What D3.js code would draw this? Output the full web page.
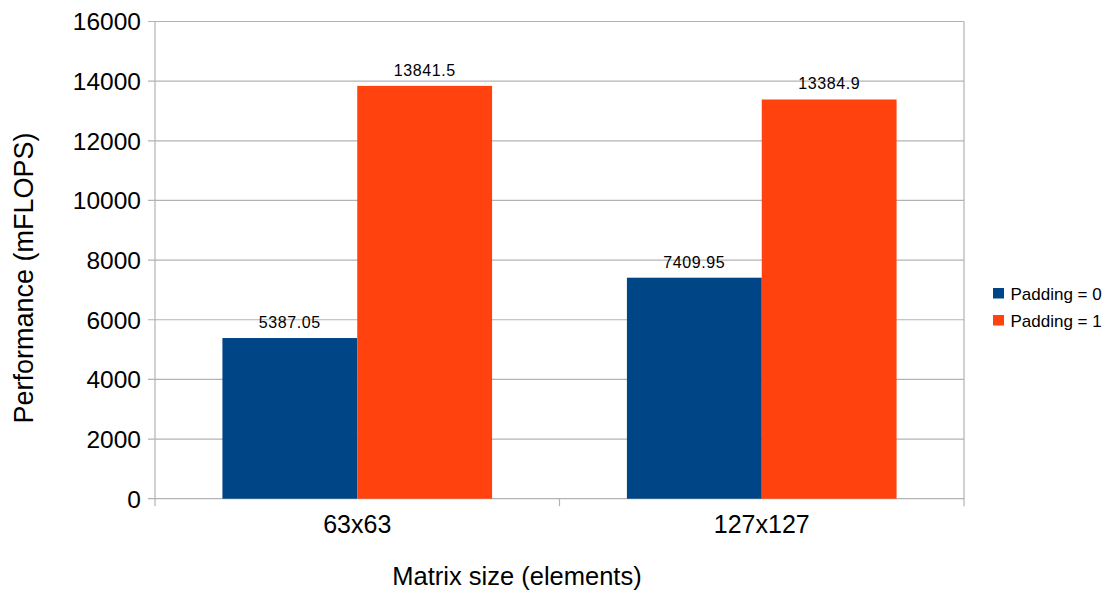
<!DOCTYPE html>
<html>
<head>
<meta charset="utf-8">
<script src="https://cdn.jsdelivr.net/npm/d3@7"></script>
<style>
  html, body { margin: 0; padding: 0; background: #fff; }
  svg text { font-family: "Liberation Sans", Arial, sans-serif; fill: #000; }
</style>
</head>
<body>
<svg id="chart" width="1116" height="590"></svg>
<script>
// Matrix sizes along the x axis
const categories = ["63x63", "127x127"];
// Series names shown in the legend
const seriesNames = ["Padding = 0", "Padding = 1"];
// Performance in mFLOPS, one value per category
const padding0 = [5387.05, 7409.95];
const padding1 = [13841.5, 13384.9];
// Y-axis tick values
const yTicks = [0, 2000, 4000, 6000, 8000, 10000, 12000, 14000, 16000];

const seriesValues = [padding0, padding1];
const colors = ["#004586", "#ff420e"];
const gridColor = "#b3b3b3";

const svg = d3.select("#chart");
const plot = { left: 155, right: 964, top: 21.5, bottom: 498.7 };

const y = d3.scaleLinear().domain([0, 16000]).range([plot.bottom, plot.top]);
const x0 = d3.scaleBand().domain(categories).range([plot.left, plot.right]).padding(0);
const bw = x0.bandwidth();
const x1 = d3.scaleBand().domain(d3.range(seriesNames.length)).range([bw / 6, bw * 5 / 6]).padding(0);

// Horizontal gridlines with short tick marks to the left of the axis
svg.append("g").selectAll("line").data(yTicks).join("line")
  .attr("x1", plot.left - 7).attr("x2", plot.right)
  .attr("y1", d => y(d)).attr("y2", d => y(d))
  .attr("stroke", gridColor).attr("stroke-width", 1.2);

// Y tick labels
svg.append("g").selectAll("text").data(yTicks).join("text")
  .attr("x", 141).attr("y", d => y(d) + 8.8)
  .attr("text-anchor", "end")
  .style("font-size", "24.5px")
  .text(d => d);

// Vertical axis line and right-hand edge
[plot.left, plot.right].forEach(xp => {
  svg.append("line")
    .attr("x1", xp).attr("x2", xp)
    .attr("y1", plot.top).attr("y2", plot.bottom + 7.5)
    .attr("stroke", gridColor).attr("stroke-width", 1.2);
});
// Category separator tick
svg.append("line")
  .attr("x1", x0(categories[1])).attr("x2", x0(categories[1]))
  .attr("y1", plot.bottom).attr("y2", plot.bottom + 7.5)
  .attr("stroke", gridColor).attr("stroke-width", 1.2);

// Bars
const groups = svg.append("g").selectAll("g").data(categories).join("g")
  .attr("transform", c => `translate(${x0(c)},0)`);

groups.selectAll("rect")
  .data((c, ci) => seriesValues.map((vals, si) => ({ si, v: vals[ci] })))
  .join("rect")
  .attr("x", d => x1(d.si))
  .attr("width", x1.bandwidth())
  .attr("y", d => y(d.v))
  .attr("height", d => plot.bottom - y(d.v))
  .attr("fill", d => colors[d.si]);

// Value labels above each bar
groups.selectAll("text.val")
  .data((c, ci) => seriesValues.map((vals, si) => ({ si, v: vals[ci] })))
  .join("text")
  .attr("class", "val")
  .attr("x", d => x1(d.si) + x1.bandwidth() / 2)
  .attr("y", d => y(d.v) - 10)
  .attr("text-anchor", "middle")
  .style("font-size", "16px")
  .style("letter-spacing", "0.6px")
  .text(d => d.v);

// Category labels
svg.append("g").selectAll("text").data(categories).join("text")
  .attr("x", c => x0(c) + bw / 2)
  .attr("y", 533.3)
  .attr("text-anchor", "middle")
  .style("font-size", "25px")
  .text(c => c);

// Axis titles
svg.append("text")
  .attr("x", 517).attr("y", 585)
  .attr("text-anchor", "middle")
  .style("font-size", "25.5px")
  .text("Matrix size (elements)");

svg.append("text")
  .attr("transform", "translate(33,278) rotate(-90)")
  .attr("text-anchor", "middle")
  .style("font-size", "27px")
  .text("Performance (mFLOPS)");

// Legend
const legend = svg.append("g").selectAll("g").data(seriesNames).join("g")
  .attr("transform", (d, i) => `translate(993,${288 + i * 27})`);
legend.append("rect")
  .attr("width", 11).attr("height", 10.5)
  .attr("fill", (d, i) => colors[i]);
legend.append("text")
  .attr("x", 17.5).attr("y", 12)
  .style("font-size", "17px")
  .text(d => d);
</script>
</body>
</html>
